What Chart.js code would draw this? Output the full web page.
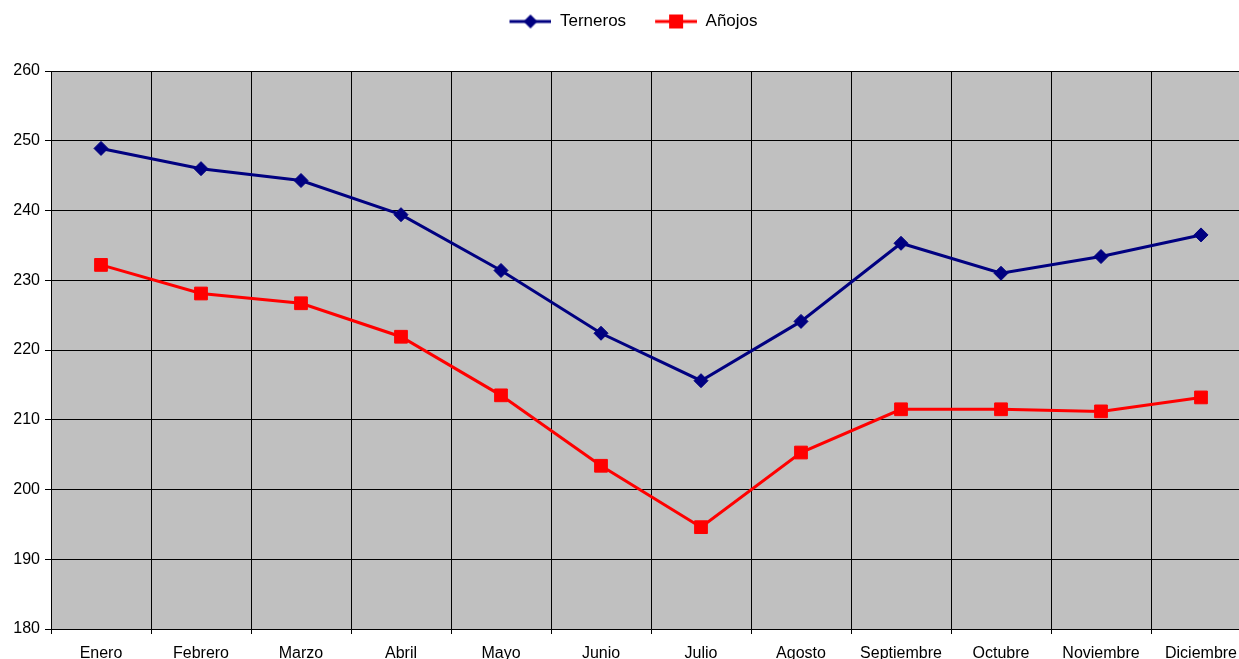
<!DOCTYPE html>
<html>
<head>
<meta charset="utf-8">
<script src="https://cdn.jsdelivr.net/npm/chart.js@4"></script>
<style>
  html, body { margin: 0; padding: 0; background: #fff; overflow: hidden; }
  #wrap { position: absolute; left: 0; top: 0; width: 1262px; height: 680px; }
</style>
</head>
<body>
<div id="wrap"><canvas id="myChart"></canvas></div>
<script>
const meses = ['Enero', 'Febrero', 'Marzo', 'Abril', 'Mayo', 'Junio', 'Julio',
  'Agosto', 'Septiembre', 'Octubre', 'Noviembre', 'Diciembre'];
const terneros = [248.9, 246.0, 244.3, 239.4, 231.4, 222.4, 215.6, 224.1, 235.3, 231.0, 233.4, 236.5];
const anojos = [232.2, 228.1, 226.7, 221.9, 213.5, 203.4, 194.6, 205.3, 211.5, 211.5, 211.2, 213.2];
const yMin = 180, yMax = 260, yStep = 10;

const FONT = 'Arial, "Liberation Sans", sans-serif';

// legend swatch: short line with the marker on it, like the spreadsheet legend
// (transparent strip on the left gives the gap between the two entries)
function swatch(color, style) {
  const c = document.createElement('canvas');
  c.width = 58; c.height = 16;
  const ctx = c.getContext('2d');
  ctx.strokeStyle = color;
  ctx.fillStyle = color;
  ctx.lineWidth = 3;
  ctx.beginPath();
  ctx.moveTo(16, 8); ctx.lineTo(58, 8);
  ctx.stroke();
  ctx.beginPath();
  if (style == 'diamond') {
    ctx.moveTo(37, 1); ctx.lineTo(44, 8); ctx.lineTo(37, 15); ctx.lineTo(30, 8);
  } else {
    ctx.rect(30, 1, 14, 14);
  }
  ctx.fill();
  return c;
}

const plotBg = {
  id: 'plotBg',
  beforeDraw(chart) {
    const a = chart.chartArea;
    const ctx = chart.ctx;
    ctx.save();
    ctx.fillStyle = '#c0c0c0';
    ctx.fillRect(a.left, a.top, a.right - a.left, a.bottom - a.top);
    ctx.restore();
  }
};

// extra room under the legend
const legendGap = {
  id: 'legendGap',
  beforeInit(chart) {
    const fit = chart.legend.fit;
    chart.legend.fit = function () {
      fit.bind(chart.legend)();
      this.height += 31;
    };
  }
};

function main() {
  const swatches = [swatch('#000080', 'diamond'), swatch('#ff0000', 'square')];

  new Chart(document.getElementById('myChart'), {
    type: 'line',
    data: {
      labels: meses,
      datasets: [{
        label: 'Terneros',
        data: terneros,
        borderColor: '#000080',
        backgroundColor: '#000080',
        borderWidth: 3,
        pointStyle: 'rectRot',
        pointRadius: 7,
        pointBorderWidth: 1,
        tension: 0
      }, {
        label: 'Añojos',
        data: anojos,
        borderColor: '#ff0000',
        backgroundColor: '#ff0000',
        borderWidth: 3,
        pointStyle: 'rect',
        pointRadius: 9,
        pointBorderWidth: 1,
        tension: 0
      }]
    },
    options: {
      responsive: true,
      maintainAspectRatio: false,
      animation: false,
      layout: { padding: { left: 0, right: 11, top: 0, bottom: 0 } },
      plugins: {
        tooltip: { enabled: false },
        legend: {
          position: 'top',
          labels: {
            usePointStyle: true,
            pointStyleWidth: 58,
            color: '#000',
            font: { family: FONT, size: 17 },
            padding: 13,
            generateLabels(chart) {
              return chart.data.datasets.map((ds, i) => ({
                text: ds.label,
                pointStyle: swatches[i],
                fillStyle: ds.borderColor,
                strokeStyle: ds.borderColor,
                lineWidth: 0,
                hidden: false,
                datasetIndex: i
              }));
            }
          }
        }
      },
      scales: {
        x: {
          offset: true,
          grid: { offset: true, color: '#000', lineWidth: 1, tickLength: 5, tickColor: '#000' },
          border: { color: '#000', width: 1 },
          ticks: { color: '#000', font: { family: FONT, size: 16 }, padding: 10, maxRotation: 0, autoSkip: false },
          afterFit(scale) { scale.height = 51; }
        },
        y: {
          min: yMin,
          max: yMax,
          grid: { color: '#000', lineWidth: 1, tickLength: 6, tickColor: '#000' },
          border: { color: '#000', width: 1 },
          ticks: { stepSize: yStep, color: '#000', font: { family: FONT, size: 16 }, padding: 5 },
          afterFit(scale) { scale.width = 51; }
        }
      }
    },
    plugins: [plotBg, legendGap]
  });
}

document.addEventListener("DOMContentLoaded", function(){
  main();
});
</script>
</body>
</html>
